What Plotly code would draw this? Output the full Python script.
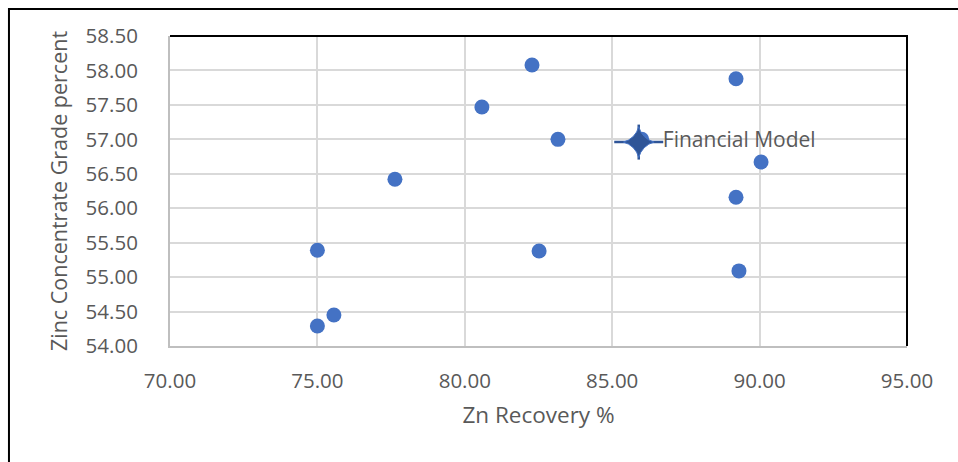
import plotly.graph_objects as go

# Zinc recovery (%) vs concentrate grade (%) per case
recovery = [75.0, 75.0, 75.56, 77.63, 80.58, 82.28, 83.16, 82.52, 89.2, 90.05, 89.2, 89.3, 86.0]
grade = [55.39, 54.29, 54.45, 56.42, 57.47, 58.08, 57.0, 55.38, 57.88, 56.67, 56.16, 55.09, 57.0]

# Financial model case
model_recovery = [85.9]
model_grade = [56.96]
model_label = ["Financial Model"]

x_ticks = [70, 75, 80, 85, 90, 95]
y_ticks = [54.0, 54.5, 55.0, 55.5, 56.0, 56.5, 57.0, 57.5, 58.0, 58.5]

FONT = "Open Sans"
TEXT_GREY = "#595959"
STAR_BLUE = "#2F5597"

fig = go.Figure()

fig.add_trace(go.Scatter(
    x=recovery, y=grade, mode="markers",
    marker=dict(size=15, color="#4472C4", line=dict(width=0)),
    showlegend=False, hoverinfo="x+y",
))

# slim four-pointed star: thin horizontal/vertical arms plus a small star body
fig.add_trace(go.Scatter(
    x=model_recovery, y=model_grade, mode="markers",
    marker=dict(symbol="line-ew", size=35, line=dict(width=2.5, color=STAR_BLUE)),
    showlegend=False, hoverinfo="skip",
))
fig.add_trace(go.Scatter(
    x=model_recovery, y=model_grade, mode="markers",
    marker=dict(symbol="line-ns", size=25, line=dict(width=2.5, color=STAR_BLUE)),
    showlegend=False, hoverinfo="skip",
))
fig.add_trace(go.Scatter(
    x=model_recovery, y=model_grade, mode="markers",
    marker=dict(symbol="star-diamond", size=22, color=STAR_BLUE,
                line=dict(width=1, color="#4472C4")),
    showlegend=False, hoverinfo="x+y",
))
# label, offset to the right of the star
fig.add_trace(go.Scatter(
    x=model_recovery, y=model_grade, mode="markers+text",
    text=model_label, textposition="middle right",
    textfont=dict(family=FONT, size=21, color=TEXT_GREY),
    marker=dict(size=37, color="rgba(0,0,0,0)"),
    showlegend=False, hoverinfo="skip",
))

fig.update_layout(
    width=958, height=462,
    margin=dict(l=170, r=51, t=36, b=116),
    paper_bgcolor="white", plot_bgcolor="white",
    font=dict(family=FONT, color=TEXT_GREY),
    xaxis=dict(
        range=[70, 95], tickvals=x_ticks, tickformat=".2f",
        showgrid=True, gridcolor="#D9D9D9", gridwidth=1.5,
        showline=True, linecolor="#BFBFBF", linewidth=2,
        zeroline=False, ticks="", ticklabelstandoff=15,
        tickfont=dict(family=FONT, size=20.5, color=TEXT_GREY),
        title=dict(text="Zn Recovery %", standoff=15,
                   font=dict(family=FONT, size=22.5, color=TEXT_GREY)),
    ),
    yaxis=dict(
        range=[54, 58.5], tickvals=y_ticks, tickformat=".2f",
        showgrid=True, gridcolor="#D9D9D9", gridwidth=1.5,
        showline=True, linecolor="#BFBFBF", linewidth=2,
        zeroline=False, ticks="", ticklabelstandoff=26,
        tickfont=dict(family=FONT, size=20.5, color=TEXT_GREY),
        title=dict(text="Zinc Concentrate Grade percent", standoff=12,
                   font=dict(family=FONT, size=21.5, color=TEXT_GREY)),
    ),
    shapes=[
        # top and right plot-area borders
        dict(type="path", xref="x domain", yref="y domain",
             path="M 0 1 L 1 1 L 1 0", line=dict(color="black", width=2)),
        # outer chart frame
        dict(type="path", xref="paper", yref="paper",
             path="M -0.2185 -0.5 L -0.2185 1.087 L 1.2 1.087",
             line=dict(color="black", width=2)),
    ],
)

fig.write_html("out.html")
